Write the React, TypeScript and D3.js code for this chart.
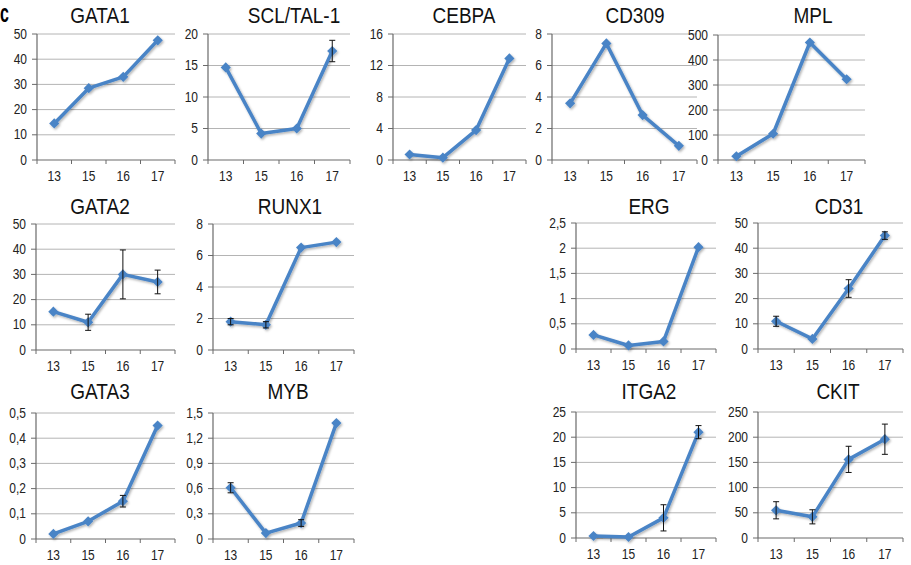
import React from "react";
import * as d3 from "d3";

// Categories (developmental day) shared by every panel.
const categories = ["13", "15", "16", "17"];

// Per-gene means, error half-widths and y tick values.
const gata1Values = [14.5, 28.5, 33, 47.5];
const gata1Errors = [0, 0, 0, 0];
const gata1Ticks = [0, 10, 20, 30, 40, 50];

const sclValues = [14.7, 4.2, 5, 17.3];
const sclErrors = [0, 0, 0, 1.7];
const sclTicks = [0, 5, 10, 15, 20];

const cebpaValues = [0.7, 0.3, 3.8, 12.9];
const cebpaErrors = [0, 0, 0, 0];
const cebpaTicks = [0, 4, 8, 12, 16];

const cd309Values = [3.6, 7.4, 2.85, 0.9];
const cd309Errors = [0, 0, 0, 0];
const cd309Ticks = [0, 2, 4, 6, 8];

const mplValues = [15, 105, 470, 323];
const mplErrors = [0, 0, 0, 0];
const mplTicks = [0, 100, 200, 300, 400, 500];

const gata2Values = [15.2, 11, 30, 27];
const gata2Errors = [0, 3.2, 9.7, 4.7];
const gata2Ticks = [0, 10, 20, 30, 40, 50];

const runx1Values = [1.8, 1.6, 6.5, 6.85];
const runx1Errors = [0.2, 0.2, 0, 0];
const runx1Ticks = [0, 2, 4, 6, 8];

const ergValues = [0.28, 0.07, 0.15, 2.02];
const ergErrors = [0, 0, 0, 0];
const ergTicks = [0, 0.5, 1, 1.5, 2, 2.5];

const cd31Values = [11, 4, 24, 45];
const cd31Errors = [2, 0, 3.5, 1.5];
const cd31Ticks = [0, 10, 20, 30, 40, 50];

const gata3Values = [0.02, 0.07, 0.15, 0.45];
const gata3Errors = [0, 0, 0.023, 0];
const gata3Ticks = [0, 0.1, 0.2, 0.3, 0.4, 0.5];

const mybValues = [0.61, 0.07, 0.19, 1.38];
const mybErrors = [0.06, 0, 0.04, 0];
const mybTicks = [0, 0.3, 0.6, 0.9, 1.2, 1.5];

const itga2Values = [0.4, 0.2, 4, 21];
const itga2Errors = [0, 0, 2.6, 1.3];
const itga2Ticks = [0, 5, 10, 15, 20, 25];

const ckitValues = [55, 42, 156, 196];
const ckitErrors = [17, 14, 26, 30];
const ckitTicks = [0, 50, 100, 150, 200, 250];

interface IPanel {
    title: string;
    values: number[];
    errors: number[];
    ticks: number[];
    left: number;
    right: number;
    top: number;
    bottom: number;
    titleX: number;
    titleY: number;
}

const panels: IPanel[] = [
    { title: "GATA1", values: gata1Values, errors: gata1Errors, ticks: gata1Ticks,
        left: 37, right: 175, top: 34, bottom: 160, titleX: 100, titleY: 23 },
    { title: "SCL/TAL-1", values: sclValues, errors: sclErrors, ticks: sclTicks,
        left: 208, right: 350, top: 34, bottom: 160, titleX: 294, titleY: 23 },
    { title: "CEBPA", values: cebpaValues, errors: cebpaErrors, ticks: cebpaTicks,
        left: 393, right: 526, top: 34, bottom: 160, titleX: 464, titleY: 23 },
    { title: "CD309", values: cd309Values, errors: cd309Errors, ticks: cd309Ticks,
        left: 552, right: 697, top: 34, bottom: 160, titleX: 635, titleY: 23 },
    { title: "MPL", values: mplValues, errors: mplErrors, ticks: mplTicks,
        left: 718, right: 865, top: 35, bottom: 160, titleX: 813, titleY: 23 },
    { title: "GATA2", values: gata2Values, errors: gata2Errors, ticks: gata2Ticks,
        left: 36, right: 175, top: 224, bottom: 350, titleX: 100, titleY: 214 },
    { title: "RUNX1", values: runx1Values, errors: runx1Errors, ticks: runx1Ticks,
        left: 213, right: 354, top: 224, bottom: 350, titleX: 290, titleY: 214 },
    { title: "ERG", values: ergValues, errors: ergErrors, ticks: ergTicks,
        left: 576, right: 716, top: 223, bottom: 349, titleX: 649, titleY: 214 },
    { title: "CD31", values: cd31Values, errors: cd31Errors, ticks: cd31Ticks,
        left: 758, right: 903, top: 223, bottom: 349, titleX: 839, titleY: 214 },
    { title: "GATA3", values: gata3Values, errors: gata3Errors, ticks: gata3Ticks,
        left: 36, right: 175, top: 413, bottom: 539, titleX: 100, titleY: 399 },
    { title: "MYB", values: mybValues, errors: mybErrors, ticks: mybTicks,
        left: 213, right: 354, top: 413, bottom: 539, titleX: 288, titleY: 399 },
    { title: "ITGA2", values: itga2Values, errors: itga2Errors, ticks: itga2Ticks,
        left: 576, right: 716, top: 412, bottom: 538, titleX: 649, titleY: 399 },
    { title: "CKIT", values: ckitValues, errors: ckitErrors, ticks: ckitTicks,
        left: 758, right: 903, top: 412, bottom: 538, titleX: 838, titleY: 399 },
];

const font = "'Liberation Sans', Arial, Helvetica, sans-serif";
const lineColor = "#4a84c6";
const axisColor = "#6a6a6a";
const gridColor = "#b4b4b4";

// Decimal comma, as in the source figure.
const locale = d3.formatLocale({ decimal: ",", thousands: ".", grouping: [3], currency: ["", ""] });
const tickFormat = locale.format("~g");

const diamond = d3.symbol(d3.symbolSquare, 52)() ?? "";

const Panel = ({ panel }: { panel: IPanel }): React.ReactElement => {
    const { values, errors, ticks, left, right, top, bottom } = panel;

    const x = d3.scaleBand<string>().domain(categories).range([left, right]).padding(0);
    const y = d3.scaleLinear().domain([0, ticks[ticks.length - 1]]).range([bottom, top]);
    const cx = (c: string): number => (x(c) ?? 0) + x.bandwidth() / 2;

    const line = d3.line<number>()
        .x((_, i) => cx(categories[i]))
        .y((v) => y(v));

    const boundaries = [...categories.map((c) => x(c) ?? 0), right];

    return (
        <g>
            <text transform={`translate(${panel.titleX},${panel.titleY}) scale(1,1.17)`}
                textAnchor="middle" fontFamily={font} fontSize={19} fill="#111">
                {panel.title}
            </text>

            {ticks.slice(1).map((t) => (
                <line key={`g${t}`} x1={left} x2={right} y1={y(t)} y2={y(t)}
                    stroke={gridColor} strokeWidth={1} />
            ))}

            {ticks.map((t) => (
                <g key={`t${t}`}>
                    <line x1={left - 5} x2={left} y1={y(t)} y2={y(t)} stroke={axisColor} />
                    <text transform={`translate(${left - 10},${y(t) + 4.5}) scale(1,1.15)`}
                        textAnchor="end" fontFamily={font} fontSize={12} fill="#222">
                        {tickFormat(t)}
                    </text>
                </g>
            ))}

            <line x1={left} x2={left} y1={top} y2={bottom} stroke={axisColor} strokeWidth={1.2} />
            <line x1={left} x2={right} y1={bottom} y2={bottom} stroke={axisColor} strokeWidth={1.2} />

            {boundaries.map((b, i) => (
                <line key={`b${i}`} x1={b} x2={b} y1={bottom} y2={bottom + 4} stroke={axisColor} />
            ))}

            {categories.map((c) => (
                <text key={c} transform={`translate(${cx(c)},${bottom + 21}) scale(1,1.15)`}
                    textAnchor="middle" fontFamily={font} fontSize={12} fill="#222">
                    {c}
                </text>
            ))}

            <g filter="url(#soft)">
                <path d={line(values) ?? ""} fill="none" stroke={lineColor} strokeWidth={3.5}
                    strokeLinejoin="round" />
                {values.map((v, i) => (
                    <path key={`m${i}`} d={diamond}
                        transform={`translate(${cx(categories[i])},${y(v)}) rotate(45)`}
                        fill={lineColor} />
                ))}
            </g>

            {errors.map((e, i) => {
                if (e <= 0) {
                    return null;
                }
                const px = cx(categories[i]);
                const y1 = y(values[i] + e);
                const y2 = y(values[i] - e);

                return (
                    <g key={`e${i}`} stroke="#111" strokeWidth={1}>
                        <line x1={px} x2={px} y1={y1} y2={y2} />
                        <line x1={px - 3} x2={px + 3} y1={y1} y2={y1} />
                        <line x1={px - 3} x2={px + 3} y1={y2} y2={y2} />
                    </g>
                );
            })}
        </g>
    );
};

const App = (): React.ReactElement => {
    return (
        <svg width={911} height={565} style={{ position: "absolute", left: 0, top: 0, background: "#fff" }}>
            <defs>
                <filter id="soft" x="-10%" y="-10%" width="130%" height="130%">
                    <feDropShadow dx={1.2} dy={1.5} stdDeviation={1.1} floodColor="#000" floodOpacity={0.3} />
                </filter>
            </defs>
            <rect width={911} height={565} fill="#fff" />
            <text transform="translate(0,22) scale(1,1.6)" fontFamily={font} fontWeight="bold"
                fontSize={16} fill="#000">c</text>
            {panels.map((p) => <Panel key={p.title} panel={p} />)}
        </svg>
    );
};

export default App;
